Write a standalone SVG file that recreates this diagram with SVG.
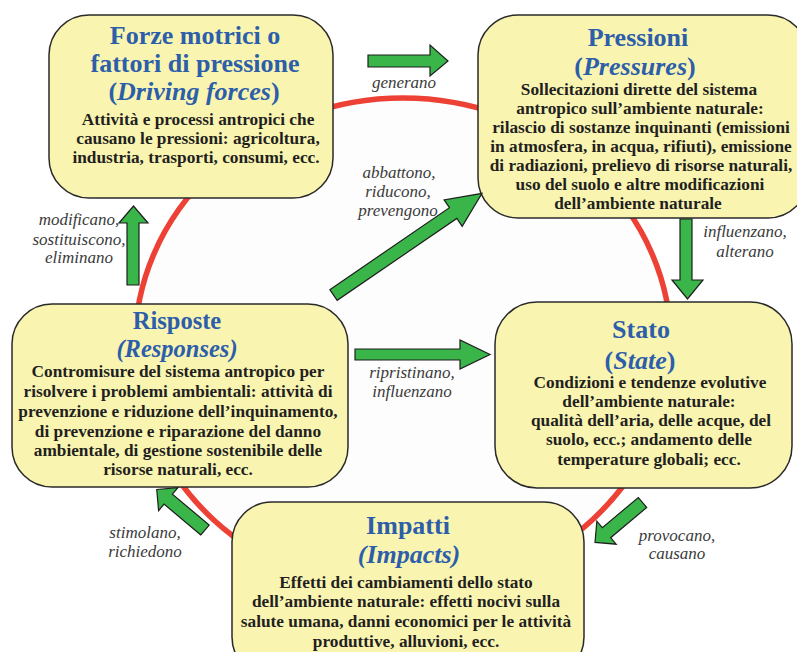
<svg xmlns="http://www.w3.org/2000/svg" width="797" height="652" viewBox="0 0 797 652">
<style>
.box{fill:#F9F5B1;stroke:#2a2a2a;stroke-width:1.5}
.title{font-family:"Liberation Serif","Times New Roman",serif;font-weight:bold;font-size:26px;fill:#2D5EAA;text-anchor:middle}
.t24{font-size:24.5px}
.body{font-family:"Liberation Serif","Times New Roman",serif;font-weight:bold;font-size:17.3px;fill:#231F20;text-anchor:middle}
.lbl{font-family:"Liberation Serif","Times New Roman",serif;font-style:italic;font-size:17px;fill:#3a3a3a;text-anchor:middle}
.arr{fill:#39B54A;stroke:#1e1e1e;stroke-width:1.2;stroke-linejoin:miter}
.it{font-style:italic}
</style>
<rect width="797" height="652" fill="#ffffff"/>
<ellipse id="cycle" cx="403" cy="345" rx="268" ry="247" fill="#fdfdfd" stroke="#EE4136" stroke-width="5.5"/>

<g id="driving-forces">
<rect class="box" x="49" y="15" width="284" height="183" rx="40" ry="40"/>
<text class="title" x="195" y="44">Forze motrici o</text>
<text class="title" x="195" y="72">fattori di pressione</text>
<text class="title" x="194" y="100">(<tspan class="it">Driving forces</tspan>)</text>
<text class="body" x="198" y="125">Attività e processi antropici che</text>
<text class="body" x="198" y="144">causano le pressioni: agricoltura,</text>
<text class="body" x="196" y="163">industria, trasporti, consumi, ecc.</text>
</g>

<g id="pressures">
<rect class="box" x="478" y="15" width="330" height="203" rx="40" ry="40"/>
<text class="title" x="638" y="46">Pressioni</text>
<text class="title" x="635" y="75">(<tspan class="it">Pressures</tspan>)</text>
<text class="body" x="639" y="95">Sollecitazioni dirette del sistema</text>
<text class="body" x="640" y="114">antropico sull’ambiente naturale:</text>
<text class="body" x="641" y="133">rilascio di sostanze inquinanti (emissioni</text>
<text class="body" x="641" y="152">in atmosfera, in acqua, rifiuti), emissione</text>
<text class="body" x="641" y="171">di radiazioni, prelievo di risorse naturali,</text>
<text class="body" x="640" y="190">uso del suolo e altre modificazioni</text>
<text class="body" x="638" y="209">dell’ambiente naturale</text>
</g>

<g id="responses">
<rect class="box" x="12" y="304" width="336" height="183" rx="40" ry="40"/>
<text class="title t24" x="177" y="329">Risposte</text>
<text class="title t24 it" x="177" y="357">(Responses)</text>
<text class="body" x="178" y="377">Contromisure del sistema antropico per</text>
<text class="body" x="178" y="397">risolvere i problemi ambientali: attività di</text>
<text class="body" x="178" y="417">prevenzione e riduzione dell’inquinamento,</text>
<text class="body" x="178" y="437">di prevenzione e riparazione del danno</text>
<text class="body" x="178" y="456">ambientale, di gestione sostenibile delle</text>
<text class="body" x="178" y="475">risorse naturali, ecc.</text>
</g>

<g id="state">
<rect class="box" x="495" y="302" width="297" height="186" rx="42" ry="42"/>
<text class="title" x="641" y="338">Stato</text>
<text class="title" x="640" y="369">(<tspan class="it">State</tspan>)</text>
<text class="body" x="650" y="388">Condizioni e tendenze evolutive</text>
<text class="body" x="649" y="407">dell’ambiente naturale:</text>
<text class="body" x="651" y="426">qualità dell’aria, delle acque, del</text>
<text class="body" x="649" y="445">suolo, ecc.; andamento delle</text>
<text class="body" x="649" y="465">temperature globali; ecc.</text>
</g>

<g id="impacts">
<rect class="box" x="232" y="502" width="352" height="175" rx="40" ry="40"/>
<text class="title" x="408" y="534">Impatti</text>
<text class="title it" x="409" y="563">(Impacts)</text>
<text class="body" x="406" y="588">Effetti dei cambiamenti dello stato</text>
<text class="body" x="406" y="607">dell’ambiente naturale: effetti nocivi sulla</text>
<text class="body" x="406" y="627">salute umana, danni economici per le attività</text>
<text class="body" x="406" y="647">produttive, alluvioni, ecc.</text>
</g>

<g id="connectors">
<polygon class="arr" points="368,55 430,55 430,45 448,61 430,76 430,67 368,67"/>
<polygon class="arr" points="127,285 127,223 119,223 133.5,206 148,223 139,223 139,285"/>
<polygon class="arr" points="680,219 692,219 692,280 703,280 687.5,299 672,280 680,280"/>
<polygon class="arr" points="355,349 460,349 460,340 490,354.5 460,369 460,360 355,360"/>
<polygon class="arr" transform="translate(333.5,295) rotate(-34.4)" points="0,-6.5 145,-6.5 145,-16 180,0 145,16 145,6.5 0,6.5"/>
<polygon class="arr" transform="translate(205,530) rotate(220)" points="0,-6.5 48,-6.5 48,-15 63,0 48,15 48,6.5 0,6.5"/>
<polygon class="arr" transform="translate(642.5,502.5) rotate(140)" points="0,-6.5 47,-6.5 47,-15 62,0 47,15 47,6.5 0,6.5"/>
<text class="lbl" x="404" y="88">generano</text>
<text class="lbl" x="79" y="225">modificano,</text>
<text class="lbl" x="79" y="245">sostituiscono,</text>
<text class="lbl" x="79" y="263">eliminano</text>
<text class="lbl" x="745" y="237">influenzano,</text>
<text class="lbl" x="745" y="257">alterano</text>
<text class="lbl" x="399" y="178">abbattono,</text>
<text class="lbl" x="398" y="197">riducono,</text>
<text class="lbl" x="398" y="216">prevengono</text>
<text class="lbl" x="412" y="378">ripristinano,</text>
<text class="lbl" x="412" y="397">influenzano</text>
<text class="lbl" x="145" y="538">stimolano,</text>
<text class="lbl" x="145" y="557">richiedono</text>
<text class="lbl" x="677" y="541">provocano,</text>
<text class="lbl" x="677" y="559">causano</text>
</g>
</svg>
